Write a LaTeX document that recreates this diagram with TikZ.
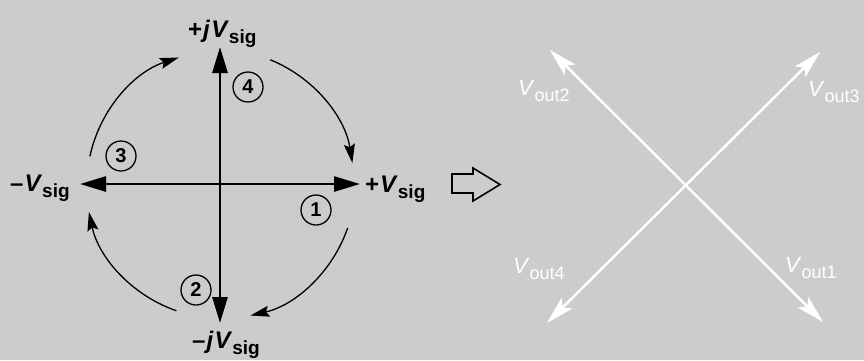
\documentclass[tikz,border=0pt]{standalone}
\usepackage{fontspec}
\setmainfont{Liberation Sans}
\usetikzlibrary{arrows.meta,calc}
\definecolor{bgc}{gray}{0.8}
\newcommand{\lsub}[1]{\raisebox{-6pt}{\fontsize{19}{19}\selectfont\bfseries #1}}
\newcommand{\wsub}[1]{\raisebox{-6pt}{\fontsize{18}{18}\selectfont #1}}
\begin{document}
\begin{tikzpicture}[x=1pt,y=1pt,
  axisline/.style={line width=2.8pt, {Triangle[length=26pt,width=15pt]}-{Triangle[length=26pt,width=15pt]}},
  arcline/.style={line width=1.3pt, -{Stealth[length=19pt,width=11pt,inset=3pt]}},
  whiteline/.style={white, line width=2.4pt, {Stealth[length=28pt,width=15pt,inset=6pt]}-{Stealth[length=28pt,width=15pt,inset=6pt]}},
  lab/.style={inner sep=0pt, anchor=base west, font=\fontsize{24}{24}\selectfont\bfseries},
  wlab/.style={inner sep=0pt, anchor=base west, text=white, font=\fontsize{22}{22}\selectfont},
  num/.style={circle, draw, line width=1.3pt, minimum size=30pt, inner sep=0pt, font=\fontsize{20}{20}\selectfont\bfseries},
  hollow/.style={draw=black, line width=1.6pt, line join=miter}
]
\fill[bgc] (0,0) rectangle (864,-360);
\useasboundingbox (0,0) rectangle (864,-360);

% left axes
\coordinate (C) at (220,-184);
\coordinate (E) at (360,-184);
\coordinate (W) at (80,-184);
\coordinate (N) at (220,-47);
\coordinate (S) at (220,-323);
\draw[axisline] (W) -- (E);
\draw[axisline] (S) -- (N);

% labels
\node[lab] (lN) at (188,-37) {+\kern1pt\textit{j}\kern1pt\textit{V}\lsub{sig}};
\node[lab] (lS) at (192,-348) {–\kern1pt\textit{j}\kern1pt\textit{V}\lsub{sig}};
\node[lab] (lW) at (10,-191) {–\kern1pt\textit{V}\lsub{sig}};
\node[lab] (lE) at (365,-192) {+\kern1pt\textit{V}\lsub{sig}};

% circled numbers
\node[num] (n1) at (316,-210) {1};
\node[num] (n2) at (196,-290) {2};
\node[num] (n3) at (121,-156) {3};
\node[num] (n4) at (248,-87) {4};

% rotation arcs
\draw[arcline] ($(C)+(68:134)$) arc[start angle=68, end angle=9, radius=134];
\draw[arcline] ($(C)+(-19:135)$) arc[start angle=-19, end angle=-77, radius=135];
\draw[arcline] ($(C)+(-109:134)$) arc[start angle=-109, end angle=-168, radius=134];
\draw[arcline] ($(C)+(168:133)$) arc[start angle=168, end angle=108, radius=133];

% hollow arrow
\draw[hollow] (452,-174) -- (473,-174) -- (473,-168) -- (500,-184.5) -- (473,-201) -- (473,-193) -- (452,-193) -- cycle;

% right X
\coordinate (UL) at (550,-50);
\coordinate (LR) at (823,-322);
\coordinate (LL) at (547,-323);
\coordinate (UR) at (820,-52);
\draw[whiteline] (UL) -- (LR);
\draw[whiteline] (LL) -- (UR);

\node[wlab] (o2) at (518,-95) {\textit{V}\wsub{out2}};
\node[wlab] (o3) at (808,-96) {\textit{V}\wsub{out3}};
\node[wlab] (o4) at (513,-273) {\textit{V}\wsub{out4}};
\node[wlab] (o1) at (785,-272) {\textit{V}\wsub{out1}};
\end{tikzpicture}
\end{document}
